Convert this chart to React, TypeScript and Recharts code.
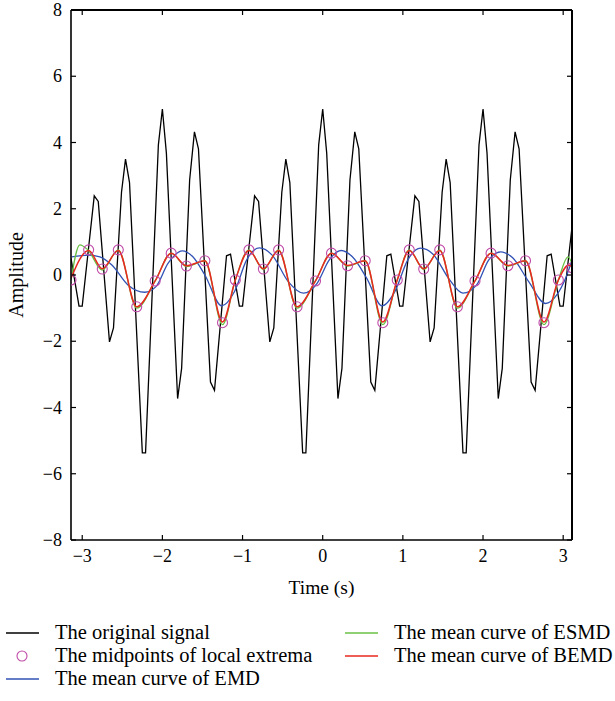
import { ComposedChart, Line, XAxis, YAxis, Label } from 'recharts'

const FONT = '"Liberation Serif", "DejaVu Serif", serif'

// original signal (vertices)
const signalTime = [
  -3.14, -3.04, -3.0, -2.85, -2.8, -2.66, -2.61, -2.51, -2.46, -2.41, -2.25, -2.21, -2.05,
  -2.0, -1.95, -1.81, -1.76, -1.66, -1.6, -1.55, -1.4, -1.35, -1.2, -1.15, -1.04, -1.0,
  -0.85, -0.8, -0.66, -0.61, -0.51, -0.46, -0.41, -0.25, -0.21, -0.05,
  0.0, 0.05, 0.19, 0.24, 0.34, 0.4, 0.45, 0.6, 0.65, 0.8, 0.85, 0.96, 1.0,
  1.15, 1.2, 1.34, 1.39, 1.49, 1.54, 1.59, 1.75, 1.79, 1.95,
  2.0, 2.05, 2.19, 2.24, 2.34, 2.4, 2.45, 2.6, 2.65, 2.8, 2.85, 2.96, 3.0, 3.11
]
const signalAmp = [
  0.5, -0.94, -0.94, 2.39, 2.22, -2.02, -1.6, 2.5, 3.5, 2.79, -5.37, -5.37, 3.93,
  5.01, 3.68, -3.73, -2.82, 2.87, 4.32, 3.81, -3.23, -3.48, 0.58, 0.63, -0.94, -0.94,
  2.39, 2.22, -2.02, -1.6, 2.5, 3.5, 2.79, -5.37, -5.37, 3.93,
  5.01, 3.68, -3.73, -2.82, 2.87, 4.32, 3.81, -3.23, -3.48, 0.58, 0.63, -0.94, -0.94,
  2.39, 2.22, -2.02, -1.6, 2.5, 3.5, 2.79, -5.37, -5.37, 3.93,
  5.01, 3.68, -3.73, -2.82, 2.87, 4.32, 3.81, -3.23, -3.48, 0.58, 0.63, -0.94, -0.94, 1.45
]

// midpoints of local extrema
const midTime = [
  -3.14, -2.92, -2.75, -2.55, -2.32, -2.09, -1.89, -1.7, -1.47, -1.25, -1.09,
  -0.92, -0.74, -0.55, -0.32, -0.09, 0.11, 0.31, 0.53, 0.75, 0.93,
  1.08, 1.26, 1.46, 1.68, 1.9, 2.1, 2.31, 2.53, 2.76, 2.94, 3.11
]
const midAmp = [
  -0.15, 0.76, 0.18, 0.76, -0.96, -0.18, 0.66, 0.27, 0.43, -1.44, -0.15,
  0.76, 0.18, 0.76, -0.96, -0.18, 0.66, 0.28, 0.43, -1.44, -0.15,
  0.76, 0.18, 0.76, -0.96, -0.18, 0.66, 0.28, 0.43, -1.44, -0.15, 0.22
]

// mean curve of EMD
const emdTime = [
  -3.13, -2.92, -2.78, -2.63, -2.43, -2.22, -2.08, -1.93, -1.75, -1.62, -1.47, -1.26, -1.1,
  -0.95, -0.79, -0.63, -0.43, -0.24, -0.07, 0.08, 0.23, 0.37, 0.55, 0.74, 0.9,
  1.06, 1.22, 1.38, 1.57, 1.75, 1.92, 2.07, 2.22, 2.37, 2.57, 2.78, 2.92, 3.03, 3.11
]
const emdAmp = [
  0.55, 0.6, 0.55, 0.3, -0.3, -0.52, -0.35, 0.35, 0.73, 0.55, 0.0, -0.93, -0.5,
  0.45, 0.82, 0.6, -0.2, -0.55, -0.25, 0.45, 0.74, 0.55, -0.1, -0.93, -0.5,
  0.45, 0.81, 0.62, -0.1, -0.55, -0.3, 0.45, 0.7, 0.52, -0.2, -0.86, -0.6, -0.1, 0.45
]

// mean curve of ESMD
const esmdTime = [
  -3.14, -3.03, -2.93, -2.75, -2.55, -2.32, -2.09, -1.89, -1.7, -1.47, -1.25, -1.09,
  -0.92, -0.74, -0.55, -0.32, -0.09, 0.11, 0.31, 0.53, 0.75, 0.93,
  1.08, 1.26, 1.46, 1.68, 1.9, 2.1, 2.31, 2.53, 2.76, 2.94, 3.06, 3.11
]
const esmdAmp = [
  -0.15, 0.91, 0.76, 0.15, 0.76, -1.0, -0.18, 0.66, 0.26, 0.43, -1.5, -0.15,
  0.76, 0.17, 0.76, -1.0, -0.18, 0.66, 0.27, 0.43, -1.5, -0.15,
  0.76, 0.17, 0.76, -1.0, -0.18, 0.66, 0.27, 0.43, -1.5, -0.15, 0.55, 0.35
]

// mean curve of BEMD
const bemdTime = [
  -3.14, -2.92, -2.75, -2.55, -2.32, -2.09, -1.89, -1.7, -1.47, -1.25, -1.09,
  -0.92, -0.74, -0.55, -0.32, -0.09, 0.11, 0.31, 0.53, 0.75, 0.93,
  1.08, 1.26, 1.46, 1.68, 1.9, 2.1, 2.31, 2.53, 2.76, 2.94, 3.07, 3.11
]
const bemdAmp = [
  -0.1, 0.74, 0.19, 0.74, -0.96, -0.18, 0.66, 0.28, 0.43, -1.42, -0.15,
  0.74, 0.19, 0.74, -0.96, -0.18, 0.66, 0.29, 0.43, -1.42, -0.15,
  0.74, 0.19, 0.74, -0.96, -0.18, 0.66, 0.29, 0.43, -1.42, -0.15, 0.3, 0.24
]

const xTicks = [-3, -2, -1, 0, 1, 2, 3]
const yTicks = [-8, -6, -4, -2, 0, 2, 4, 6, 8]

// chart geometry
const CHART_W = 615
const CHART_H = 608
const M_TOP = 10
const M_RIGHT = 43
const Y_AXIS_W = 71
const X_AXIS_H = 68
const PLOT_W = CHART_W - M_RIGHT - Y_AXIS_W
const PLOT_H = CHART_H - M_TOP - X_AXIS_H
const X_MARGIN = 8
const Y_MARGIN = 9
const TICK = 5

const toPoints = (ts: number[], vs: number[]) => ts.map((t, i) => ({ t, v: vs[i] }))

const fmt = (v: number) => String(v).replace('-', '\u2212')

// bottom tick label + inward ticks on bottom and top edges
const BottomTick = ({ x, y, payload }: any) => {
  const axisY = y - X_MARGIN
  const topY = axisY - PLOT_H
  return (
    <g>
      <line x1={x} y1={axisY} x2={x} y2={axisY - TICK} stroke="#000" strokeWidth={1.2} />
      <line x1={x} y1={topY} x2={x} y2={topY + TICK} stroke="#000" strokeWidth={1.2} />
      <text x={x} y={y + 14} textAnchor="middle" fontSize={18} fill="#000" fontFamily={FONT}>
        {fmt(payload.value)}
      </text>
    </g>
  )
}

// left tick label + inward ticks on left and right edges
const LeftTick = ({ x, y, payload }: any) => {
  const axisX = x + Y_MARGIN
  const rightX = axisX + PLOT_W
  return (
    <g>
      <line x1={axisX} y1={y} x2={axisX + TICK} y2={y} stroke="#000" strokeWidth={1.2} />
      <line x1={rightX} y1={y} x2={rightX - TICK} y2={y} stroke="#000" strokeWidth={1.2} />
      <text x={x} y={y + 6} textAnchor="end" fontSize={18} fill="#000" fontFamily={FONT}>
        {fmt(payload.value)}
      </text>
    </g>
  )
}

const AmpLabel = ({ viewBox }: any) => {
  const cx = 16
  const cy = viewBox.y + viewBox.height / 2
  return (
    <text
      x={cx}
      y={cy}
      transform={`rotate(-90 ${cx} ${cy})`}
      textAnchor="middle"
      dominantBaseline="central"
      fontSize={20}
      fill="#000"
      fontFamily={FONT}
    >
      Amplitude
    </text>
  )
}

const legendLeft = [
  { name: 'The original signal', color: '#000000', kind: 'line' },
  { name: 'The midpoints of local extrema', color: '#c04aa8', kind: 'circle' },
  { name: 'The mean curve of EMD', color: '#3152b5', kind: 'line' }
]
const legendRight = [
  { name: 'The mean curve of ESMD', color: '#68c044', kind: 'line' },
  { name: 'The mean curve of BEMD', color: '#e8281e', kind: 'line' }
]

function LegendColumn({ items, left }: { items: typeof legendLeft; left: number }) {
  return (
    <div style={{ position: 'absolute', left, top: 621 }}>
      {items.map((it) => (
        <div key={it.name} style={{ display: 'flex', alignItems: 'center', height: 23 }}>
          <svg width={55} height={23}>
            {it.kind === 'line' ? (
              <line x1={6} y1={12} x2={39} y2={12} stroke={it.color} strokeWidth={1.3} />
            ) : (
              <circle cx={22} cy={12} r={5} stroke={it.color} fill="none" strokeWidth={1.1} />
            )}
          </svg>
          <span style={{ fontFamily: FONT, fontSize: 20.5, color: '#000', whiteSpace: 'nowrap' }}>{it.name}</span>
        </div>
      ))}
    </div>
  )
}

export default function App() {
  const signal = toPoints(signalTime, signalAmp)
  const mids = toPoints(midTime, midAmp)
  const emd = toPoints(emdTime, emdAmp)
  const esmd = toPoints(esmdTime, esmdAmp)
  const bemd = toPoints(bemdTime, bemdAmp)

  const left = Y_AXIS_W
  const right = Y_AXIS_W + PLOT_W
  const top = M_TOP
  const bottom = M_TOP + PLOT_H

  return (
    <div style={{ position: 'absolute', left: 0, top: 0, width: 615, height: 701, background: '#fff' }}>
      <ComposedChart width={CHART_W} height={CHART_H} margin={{ top: M_TOP, right: M_RIGHT, bottom: 0, left: 0 }}>
        <XAxis
          dataKey="t"
          type="number"
          domain={[-3.14, 3.11]}
          allowDataOverflow
          ticks={xTicks}
          height={X_AXIS_H}
          tickSize={0}
          tickMargin={X_MARGIN}
          tick={<BottomTick />}
          axisLine={{ stroke: '#000', strokeWidth: 1.6 }}
          tickLine={false}
        >
          <Label value="Time (s)" position="insideBottom" offset={14} fontSize={19.5} fill="#000" fontFamily={FONT} />
        </XAxis>
        <YAxis
          type="number"
          domain={[-8, 8]}
          allowDataOverflow
          ticks={yTicks}
          width={Y_AXIS_W}
          tickSize={0}
          tickMargin={Y_MARGIN}
          tick={<LeftTick />}
          axisLine={{ stroke: '#000', strokeWidth: 1.6 }}
          tickLine={false}
          label={<AmpLabel />}
        />
        <Line data={signal} dataKey="v" type="linear" stroke="#000" strokeWidth={1.3} dot={false} isAnimationActive={false} />
        <Line data={emd} dataKey="v" type="monotone" stroke="#3152b5" strokeWidth={1.3} dot={false} isAnimationActive={false} />
        <Line data={esmd} dataKey="v" type="monotone" stroke="#68c044" strokeWidth={1.3} dot={false} isAnimationActive={false} />
        <Line data={bemd} dataKey="v" type="monotone" stroke="#e8281e" strokeWidth={1.5} dot={false} isAnimationActive={false} />
        <Line
          data={mids}
          dataKey="v"
          stroke="none"
          dot={{ r: 5, stroke: '#c04aa8', strokeWidth: 1.1, fill: 'none' }}
          isAnimationActive={false}
        />
      </ComposedChart>
      {/* top and right edges of the box frame */}
      <svg
        width={CHART_W}
        height={CHART_H}
        style={{ position: 'absolute', left: 0, top: 0, zIndex: 10, pointerEvents: 'none' }}
      >
        <line x1={left} y1={top} x2={right} y2={top} stroke="#000" strokeWidth={2} shapeRendering="crispEdges" />
        <line x1={right} y1={top} x2={right} y2={bottom} stroke="#000" strokeWidth={2} shapeRendering="crispEdges" />
      </svg>
      <LegendColumn items={legendLeft} left={0} />
      <LegendColumn items={legendRight} left={339} />
    </div>
  )
}
